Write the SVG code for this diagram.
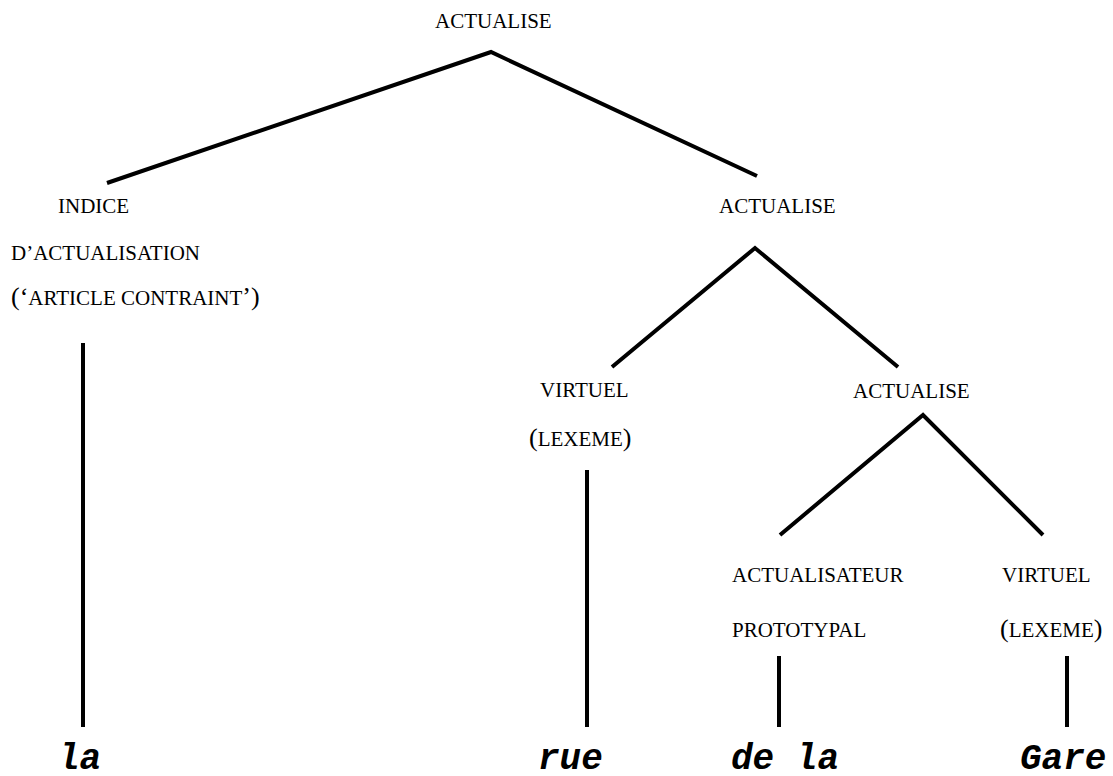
<svg xmlns="http://www.w3.org/2000/svg" width="1113" height="776" viewBox="0 0 1113 776">
  <style>
    .lbl { font-size: 21px; fill: #000; }
    .p { font-size: 26px; }
    .word { font-size: 36px; font-weight: bold; font-style: italic; fill: #000; }
    .edge { stroke: #000; stroke-width: 4; fill: none; stroke-linecap: butt; }
  </style>
  <rect width="1113" height="776" fill="#fff"/>

  <!-- tree branches -->
  <g id="connectors">
    <polyline class="edge" points="107,183 491,52 757,176"/>
    <polyline class="edge" points="612,367 755,248 898,367"/>
    <polyline class="edge" points="780,535 923,415 1043,535"/>
    <line class="edge" x1="83" y1="343" x2="83" y2="727"/>
    <line class="edge" x1="587" y1="470" x2="587" y2="727"/>
    <line class="edge" x1="779" y1="656" x2="779" y2="727"/>
    <line class="edge" x1="1067" y1="656" x2="1067" y2="727"/>
  </g>

  <g font-family="Liberation Serif, Times New Roman, serif">
    <g id="root">
      <text class="lbl" x="435" y="28">ACTUALISE</text>
    </g>
    <g id="indice">
      <text class="lbl" x="58" y="213">INDICE</text>
      <text class="lbl" x="11" y="260">D’ACTUALISATION</text>
      <text class="lbl" x="11" y="305"><tspan class="p">(‘</tspan>ARTICLE CONTRAINT<tspan class="p">’)</tspan></text>
    </g>
    <g id="actualise-2">
      <text class="lbl" x="719" y="213">ACTUALISE</text>
    </g>
    <g id="virtuel-1">
      <text class="lbl" x="540" y="397">VIRTUEL</text>
      <text class="lbl" x="529" y="446"><tspan class="p">(</tspan>LEXEME<tspan class="p">)</tspan></text>
    </g>
    <g id="actualise-3">
      <text class="lbl" x="853" y="398">ACTUALISE</text>
    </g>
    <g id="actualisateur">
      <text class="lbl" x="732" y="582">ACTUALISATEUR</text>
      <text class="lbl" x="732" y="637">PROTOTYPAL</text>
    </g>
    <g id="virtuel-2">
      <text class="lbl" x="1002" y="582">VIRTUEL</text>
      <text class="lbl" x="1000" y="637"><tspan class="p">(</tspan>LEXEME<tspan class="p">)</tspan></text>
    </g>
  </g>

  <g id="words" font-family="Liberation Mono, Courier New, monospace">
    <text class="word" x="58" y="769">la</text>
    <text class="word" x="538" y="769">rue</text>
    <text class="word" x="731" y="769">de la</text>
    <text class="word" x="1020" y="769">Gare</text>
  </g>
</svg>
